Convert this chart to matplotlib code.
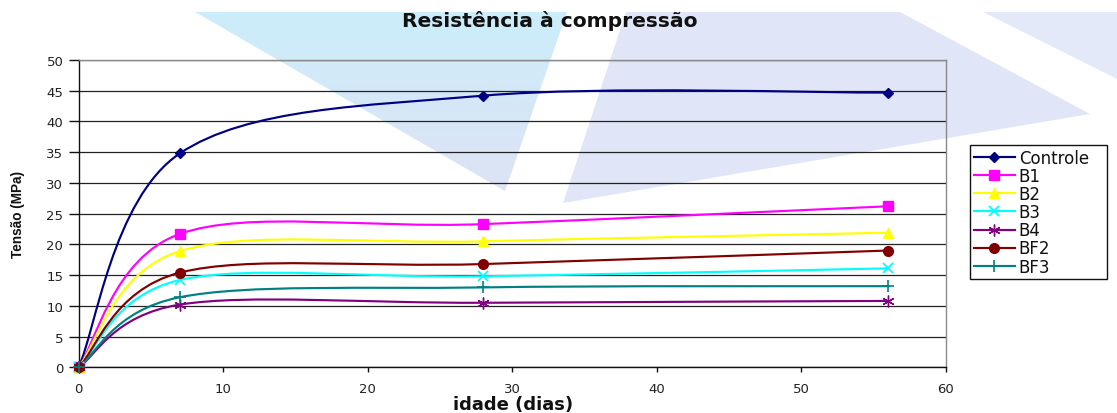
import numpy as np
import matplotlib
matplotlib.use("Agg")
import matplotlib.pyplot as plt
from matplotlib.path import Path
from matplotlib.patches import PathPatch, Polygon
from matplotlib.lines import Line2D

# ---- data -------------------------------------------------------------
idade = [0, 7, 28, 56]
controle = [0, 34.8, 44.2, 44.7]
b1 = [0, 21.7, 23.3, 26.2]
b2 = [0, 18.9, 20.5, 21.9]
b3 = [0, 14.2, 14.8, 16.1]
b4 = [0, 10.2, 10.5, 10.8]
bf2 = [0, 15.4, 16.8, 19.0]
bf3 = [0, 11.4, 13.0, 13.2]

series_names = ["Controle", "B1", "B2", "B3", "B4", "BF2", "BF3"]
series_values = [controle, b1, b2, b3, b4, bf2, bf3]

x_ticks = [0, 10, 20, 30, 40, 50, 60]
y_ticks = [0, 5, 10, 15, 20, 25, 30, 35, 40, 45, 50]

# ---- styles -----------------------------------------------------------
styles = {
    "Controle": dict(color="#000080", marker="D", ms=5.0, mew=1.0),
    "B1": dict(color="#FF00FF", marker="s", ms=7.0, mew=1.0),
    "B2": dict(color="#FFFF00", marker="^", ms=6.5, mew=1.0),
    "B3": dict(color="#00FFFF", marker="x", ms=7.0, mew=1.3),
    "B4": dict(color="#800080", marker=(6, 2, 0), ms=8.5, mew=1.0),
    "BF2": dict(color="#800000", marker="o", ms=7.0, mew=1.0),
    "BF3": dict(color="#008080", marker="+", ms=9.0, mew=1.2),
}

W, H = 1117, 414
fig = plt.figure(figsize=(W / 100, H / 100), dpi=100)
fig.patch.set_facecolor("white")

# ---- soft background logo shapes (pixel coordinates) ----------------------
bg = fig.add_axes([0, 0, 1, 1], zorder=-5)
bg.set_xlim(0, W)
bg.set_ylim(H, 0)
bg.axis("off")

lav = "#e0e6f7"
bg.add_patch(Polygon([(626, 13), (900, 13), (1090, 115), (563, 204)],
                     closed=True, facecolor=lav, edgecolor="none"))
bg.add_patch(Polygon([(983, 13), (1117, 13), (1117, 80)],
                     closed=True, facecolor="#e3e9f8", edgecolor="none"))
# gradient triangle (cyan at top, lavender at the tip)
tri = Polygon([(195, 13), (567, 13), (505, 192)], closed=True,
              facecolor="none", edgecolor="none")
bg.add_patch(tri)
grad = np.linspace(0, 1, 256)[:, None]
c_top = np.array([0.80, 0.93, 0.98])
c_bot = np.array([0.87, 0.89, 0.96])
img = c_top[None, None, :] * (1 - grad[:, :, None]) + c_bot[None, None, :] * grad[:, :, None]
im = bg.imshow(img, extent=(195, 567, 192, 13), aspect="auto", zorder=0)
im.set_clip_path(tri)

# ---- main axes ------------------------------------------------------------
ax = fig.add_axes([78.6 / W, 1 - 368.3 / H, (946 - 78.6) / W, (368.3 - 61) / H])
ax.set_facecolor("none")
ax.set_xlim(0, 60)
ax.set_ylim(0, 50)
ax.set_xticks(x_ticks)
ax.set_yticks(y_ticks)

ax.yaxis.grid(True, color="#222222", linewidth=0.9)
ax.set_axisbelow(True)

for side in ("top", "right"):
    ax.spines[side].set_color("#8a8a8a")
    ax.spines[side].set_linewidth(1.0)
for side in ("left", "bottom"):
    ax.spines[side].set_color("#111111")
    ax.spines[side].set_linewidth(1.0)

ax.tick_params(axis="both", direction="out", width=1.0, color="#111111",
               labelsize=9.5, labelcolor="#222222")
ax.tick_params(axis="y", length=7, pad=4)
ax.tick_params(axis="x", length=3.6, pad=7)
for lab in ax.get_xticklabels() + ax.get_yticklabels():
    lab.set_family("DejaVu Sans")


def smooth_path(xs, ys):
    """Cubic Bezier path through the points (Catmull-Rom style handles)."""
    pts = np.column_stack([xs, ys]).astype(float)
    n = len(pts)
    verts = [pts[0]]
    codes = [Path.MOVETO]
    for i in range(n - 1):
        p0 = pts[i - 1] if i > 0 else pts[i]
        p1 = pts[i]
        p2 = pts[i + 1]
        p3 = pts[i + 2] if i + 2 < n else pts[i + 1]
        verts += [p1 + (p2 - p0) / 6.0, p2 - (p3 - p1) / 6.0, p2]
        codes += [Path.CURVE4] * 3
    return Path(verts, codes)


LW = 1.55
handles = []
for name, vals in zip(series_names, series_values):
    st = styles[name]
    ax.add_patch(PathPatch(smooth_path(idade, vals), facecolor="none",
                           edgecolor=st["color"], linewidth=LW, zorder=3,
                           capstyle="round", joinstyle="round"))
    ax.plot(idade, vals, linestyle="none", marker=st["marker"],
            markersize=st["ms"], markeredgewidth=st["mew"],
            color=st["color"], markerfacecolor=st["color"],
            markeredgecolor=st["color"], zorder=4, clip_on=False)
    handles.append(Line2D([], [], color=st["color"], linewidth=LW,
                          marker=st["marker"], markersize=st["ms"],
                          markeredgewidth=st["mew"], markerfacecolor=st["color"],
                          markeredgecolor=st["color"], label=name))

# ---- texts ----------------------------------------------------------------
fig.text(550 / W, 1 - 21 / H, "Resistência à compressão", ha="center",
         va="center", fontsize=14.6, fontweight="bold", family="DejaVu Sans",
         color="#111111")
fig.text(513 / W, 1 - 405 / H, "idade (dias)", ha="center", va="center",
         fontsize=13, fontweight="bold", family="DejaVu Sans", color="#111111")
fig.text(18 / W, 1 - 215 / H, "Tensão (MPa)", ha="center", va="center",
         rotation=90, fontsize=9.8, fontweight="bold",
         family="Liberation Sans", color="#111111")

leg = fig.legend(handles=handles, loc="upper left", mode="expand",
                 bbox_to_anchor=(970 / W, 1 - 280 / H, 137 / W, 134 / H),
                 prop=dict(family="DejaVu Sans", size=12),
                 frameon=True, fancybox=False, edgecolor="#111111",
                 facecolor="white", framealpha=1.0, numpoints=1,
                 handlelength=2.45, handletextpad=0.25, labelspacing=0.01,
                 borderpad=0.22, borderaxespad=0.0)
leg.get_frame().set_linewidth(1.0)
for t in leg.get_texts():
    t.set_color("#111111")

fig.savefig("out.png", dpi=100, facecolor="white")
